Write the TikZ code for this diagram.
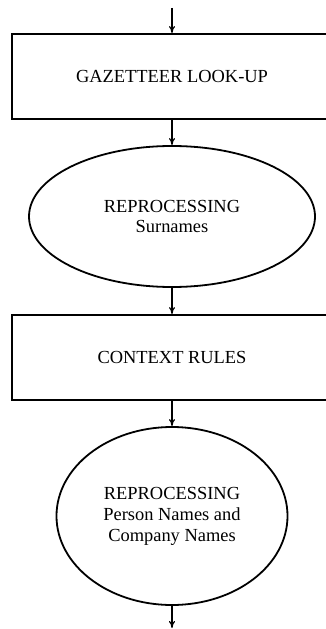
\documentclass[tikz,border=0pt]{standalone}
\usepackage{fontspec}
\setmainfont{Liberation Serif}
\usepackage{tikz}
\usetikzlibrary{arrows.meta,shapes}

\begin{document}
\begin{tikzpicture}[x=1bp, y=-1bp, line width=1.8bp,
   every node/.style={font=\fontsize{18.5}{21}\selectfont, align=center, inner sep=0pt},
   stagebox/.style={rectangle, draw, minimum width=320bp, minimum height=85bp},
   passoval/.style={ellipse, draw},
   flow/.style={line width=1.2bp, -{To[length=7bp,width=6bp]}}]
\useasboundingbox (0,0) rectangle (325,629);

\coordinate (in) at (172,8);
\node[stagebox] (gaz) at (172,76.5) {GAZETTEER LOOK-UP};
\node[passoval, minimum width=286bp, minimum height=141bp] (surn) at (172,216.5) {REPROCESSING\\Surnames};
\node[stagebox] (ctx) at (172,357.5) {CONTEXT RULES};
\node[passoval, minimum width=231bp, minimum height=178bp] (pers) at (172,516) {REPROCESSING\\Person Names and\\Company Names};
\coordinate (out) at (172,628);

\draw[flow] (in) -- (gaz);
\draw[flow] (gaz) -- (surn);
\draw[flow] (surn) -- (ctx);
\draw[flow] (ctx) -- (pers);
\draw[flow] (pers) -- (out);
\end{tikzpicture}
\end{document}
